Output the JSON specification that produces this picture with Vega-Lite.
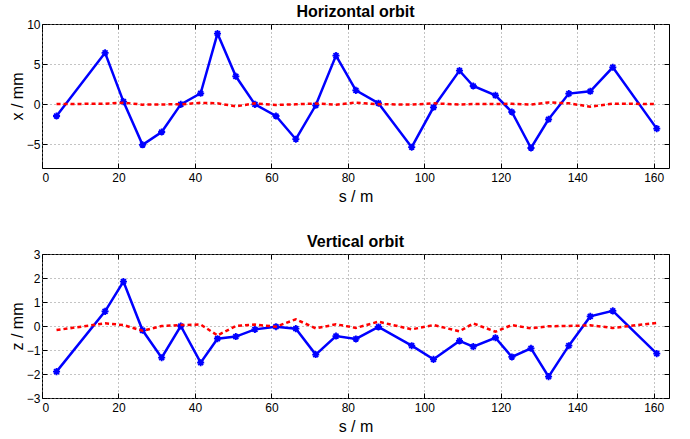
{
  "$schema": "https://vega.github.io/schema/vega-lite/v6.json",
  "background": "white",
  "padding": {"left": 8, "top": 3, "right": 18, "bottom": 3},
  "spacing": 28,
  "config": {
    "font": "Liberation Sans",
    "view": {"stroke": "black", "strokeWidth": 1},
    "axis": {
      "labelFont": "Liberation Sans",
      "labelFontSize": 12,
      "labelColor": "black",
      "titleFont": "Liberation Sans",
      "titleFontSize": 16,
      "titleFontWeight": "normal",
      "titleColor": "black",
      "tickColor": "black",
      "tickSize": -5,
      "domain": false,
      "gridColor": "#888",
      "gridDash": [1, 3],
      "gridWidth": 1
    },
    "title": {"font": "Liberation Sans", "fontSize": 16, "fontWeight": "bold", "color": "black", "offset": -2}
  },
  "data": {
    "values": [
      {"s": 3.8, "x_meas": -1.5, "x_corr": 0.0, "z_meas": -1.9, "z_corr": -0.17},
      {"s": 16.5, "x_meas": 6.4, "x_corr": 0.03, "z_meas": 0.61, "z_corr": 0.11},
      {"s": 21.3, "x_meas": 0.3, "x_corr": 0.17, "z_meas": 1.85, "z_corr": 0.04},
      {"s": 26.3, "x_meas": -5.1, "x_corr": -0.08, "z_meas": -0.18, "z_corr": -0.2},
      {"s": 31.3, "x_meas": -3.5, "x_corr": -0.05, "z_meas": -1.32, "z_corr": 0.0},
      {"s": 36.3, "x_meas": -0.05, "x_corr": -0.04, "z_meas": 0.0, "z_corr": 0.04},
      {"s": 41.5, "x_meas": 1.34, "x_corr": 0.15, "z_meas": -1.53, "z_corr": 0.06},
      {"s": 45.9, "x_meas": 8.8, "x_corr": 0.08, "z_meas": -0.53, "z_corr": -0.39},
      {"s": 50.7, "x_meas": 3.46, "x_corr": -0.29, "z_meas": -0.44, "z_corr": 0.0},
      {"s": 55.7, "x_meas": -0.05, "x_corr": 0.08, "z_meas": -0.14, "z_corr": 0.06},
      {"s": 61.2, "x_meas": -1.5, "x_corr": -0.12, "z_meas": -0.03, "z_corr": -0.03},
      {"s": 66.4, "x_meas": -4.4, "x_corr": -0.04, "z_meas": -0.11, "z_corr": 0.28},
      {"s": 71.6, "x_meas": -0.16, "x_corr": 0.06, "z_meas": -1.19, "z_corr": -0.1},
      {"s": 76.9, "x_meas": 6.05, "x_corr": -0.08, "z_meas": -0.42, "z_corr": 0.07},
      {"s": 82.1, "x_meas": 1.7, "x_corr": 0.17, "z_meas": -0.54, "z_corr": -0.08},
      {"s": 88.0, "x_meas": 0.1, "x_corr": -0.02, "z_meas": -0.04, "z_corr": 0.18},
      {"s": 96.7, "x_meas": -5.4, "x_corr": -0.08, "z_meas": -0.82, "z_corr": -0.14},
      {"s": 102.4, "x_meas": -0.41, "x_corr": 0.08, "z_meas": -1.39, "z_corr": 0.04},
      {"s": 109.2, "x_meas": 4.17, "x_corr": -0.06, "z_meas": -0.62, "z_corr": -0.22},
      {"s": 112.8, "x_meas": 2.25, "x_corr": 0.0, "z_meas": -0.86, "z_corr": 0.11},
      {"s": 118.6, "x_meas": 1.09, "x_corr": 0.0, "z_meas": -0.49, "z_corr": -0.24},
      {"s": 122.9, "x_meas": -1.0, "x_corr": 0.03, "z_meas": -1.29, "z_corr": 0.04},
      {"s": 127.9, "x_meas": -5.5, "x_corr": -0.08, "z_meas": -0.93, "z_corr": -0.1},
      {"s": 132.5, "x_meas": -1.91, "x_corr": 0.2, "z_meas": -2.11, "z_corr": -0.01},
      {"s": 137.8, "x_meas": 1.3, "x_corr": 0.08, "z_meas": -0.82, "z_corr": 0.0},
      {"s": 143.4, "x_meas": 1.59, "x_corr": -0.33, "z_meas": 0.4, "z_corr": 0.03},
      {"s": 149.3, "x_meas": 4.59, "x_corr": 0.04, "z_meas": 0.63, "z_corr": -0.08},
      {"s": 160.8, "x_meas": -3.08, "x_corr": 0.0, "z_meas": -1.15, "z_corr": 0.13}
    ]
  },
  "vconcat": [
    {
      "title": "Horizontal orbit",
      "width": 627,
      "height": 144,
      "layer": [
        {
          "mark": {"type": "line", "color": "#0000FF", "strokeWidth": 2.5},
          "encoding": {
            "x": {"field": "s", "type": "quantitative", "scale": {"domain": [0, 164], "nice": false, "zero": false},
                  "axis": {"title": "s / m", "values": [0, 20, 40, 60, 80, 100, 120, 140, 160], "grid": true, "labelPadding": 9, "titlePadding": 5}},
            "y": {"field": "x_meas", "type": "quantitative", "scale": {"domain": [-8, 10], "nice": false, "zero": false},
                  "axis": {"title": "x / mm", "values": [-5, 0, 5, 10], "grid": true, "labelPadding": 7, "titlePadding": 1}}
          }
        },
        {
          "mark": {"type": "point", "shape": "M-1,0L1,0M0,-1L0,1M-0.7,-0.7L0.7,0.7M-0.7,0.7L0.7,-0.7", "filled": false, "color": "#0000FF", "size": 50, "strokeWidth": 1.8, "opacity": 1},
          "encoding": {
            "x": {"field": "s", "type": "quantitative", "axis": null},
            "y": {"field": "x_meas", "type": "quantitative", "axis": null}
          }
        },
        {
          "mark": {"type": "line", "color": "#FF0000", "strokeWidth": 2.5, "strokeDash": [4, 3]},
          "encoding": {
            "x": {"field": "s", "type": "quantitative",
                  "axis": {"orient": "top", "title": null, "labels": false, "grid": false, "values": [0, 20, 40, 60, 80, 100, 120, 140, 160]}},
            "y": {"field": "x_corr", "type": "quantitative",
                  "axis": {"orient": "right", "title": null, "labels": false, "grid": false, "values": [-5, 0, 5, 10]}}
          }
        }
      ],
      "resolve": {"axis": {"x": "independent", "y": "independent"}}
    },
    {
      "title": "Vertical orbit",
      "width": 627,
      "height": 144,
      "layer": [
        {
          "mark": {"type": "line", "color": "#0000FF", "strokeWidth": 2.5},
          "encoding": {
            "x": {"field": "s", "type": "quantitative", "scale": {"domain": [0, 164], "nice": false, "zero": false},
                  "axis": {"title": "s / m", "values": [0, 20, 40, 60, 80, 100, 120, 140, 160], "grid": true, "labelPadding": 9, "titlePadding": 5}},
            "y": {"field": "z_meas", "type": "quantitative", "scale": {"domain": [-3, 3], "nice": false, "zero": false},
                  "axis": {"title": "z / mm", "values": [-3, -2, -1, 0, 1, 2, 3], "grid": true, "labelPadding": 7, "titlePadding": 1}}
          }
        },
        {
          "mark": {"type": "point", "shape": "M-1,0L1,0M0,-1L0,1M-0.7,-0.7L0.7,0.7M-0.7,0.7L0.7,-0.7", "filled": false, "color": "#0000FF", "size": 50, "strokeWidth": 1.8, "opacity": 1},
          "encoding": {
            "x": {"field": "s", "type": "quantitative", "axis": null},
            "y": {"field": "z_meas", "type": "quantitative", "axis": null}
          }
        },
        {
          "mark": {"type": "line", "color": "#FF0000", "strokeWidth": 2.5, "strokeDash": [4, 3]},
          "encoding": {
            "x": {"field": "s", "type": "quantitative",
                  "axis": {"orient": "top", "title": null, "labels": false, "grid": false, "values": [0, 20, 40, 60, 80, 100, 120, 140, 160]}},
            "y": {"field": "z_corr", "type": "quantitative",
                  "axis": {"orient": "right", "title": null, "labels": false, "grid": false, "values": [-3, -2, -1, 0, 1, 2, 3]}}
          }
        }
      ],
      "resolve": {"axis": {"x": "independent", "y": "independent"}}
    }
  ]
}
